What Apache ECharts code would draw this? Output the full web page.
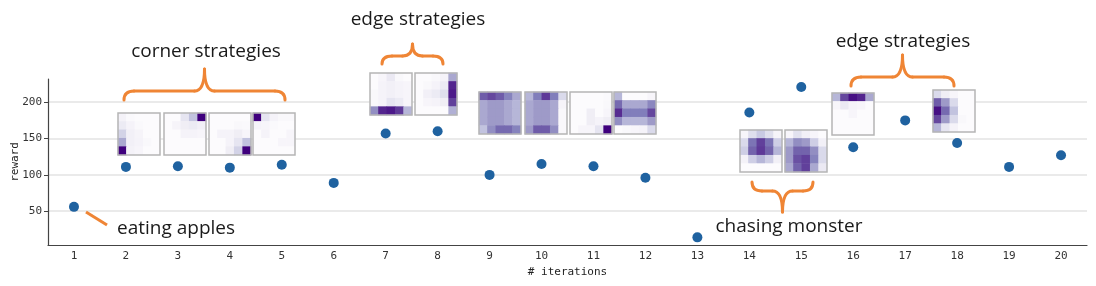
<!DOCTYPE html>
<html>
<head>
<meta charset="utf-8">
<script src="https://cdn.jsdelivr.net/npm/echarts@6/dist/echarts.min.js"></script>
<style>html,body{margin:0;padding:0;background:#fff}#c{width:1096px;height:286px}</style>
</head>
<body>
<div id="c"></div>
<script>
// ---------- data ----------
const iterations = ['1','2','3','4','5','6','7','8','9','10','11','12','13','14','15','16','17','18','19','20'];
const rewards = [56, 111, 112, 110, 114, 89, 157, 160, 100, 115, 112, 96, 14, 186, 221, 138, 175, 144, 111, 127];
const yTicks = [50, 100, 150, 200];

// state-visitation heatmaps (5x5, rows top->bottom)
const heat2 = [[0.08,0.02,0,0,0],[0.14,0.07,0.02,0,0],[0.28,0.10,0.06,0,0],[0.45,0.10,0.07,0.03,0],[1.00,0.08,0.05,0,0]];
const heat3 = [[0,0,0.18,0.35,1.00],[0,0.06,0.12,0.14,0.10],[0,0,0.07,0.07,0.05],[0,0,0,0,0],[0,0,0,0,0]];
const heat4 = [[0,0,0,0,0],[0,0,0,0.03,0.02],[0,0.07,0.07,0.12,0.05],[0,0,0.07,0.18,0.35],[0,0,0.12,0.28,1.00]];
const heat5 = [[1.00,0.18,0.07,0.03,0.03],[0.07,0.05,0.02,0,0],[0,0.07,0,0,0.05],[0,0,0,0.05,0.05],[0,0,0,0,0]];
const heat7 = [[0,0.05,0.15,0.03,0],[0,0.07,0.10,0.07,0.05],[0.03,0.07,0.10,0.07,0.05],[0.03,0.07,0.18,0.14,0.05],[0.55,0.88,0.92,0.82,0.40]];
const heat8 = [[0,0,0.03,0.07,0.45],[0,0.03,0.07,0.14,0.88],[0,0.10,0.14,0.22,0.92],[0,0.05,0.07,0.12,0.80],[0,0,0,0,0.42]];
const heat9 = [[0.72,0.78,0.72,0.60,0.45],[0.45,0.50,0.50,0.45,0.40],[0.45,0.50,0.50,0.45,0.40],[0.45,0.50,0.50,0.45,0.40],[0.35,0.55,0.68,0.68,0.60]];
const heat10 = [[0.40,0.62,0.82,0.62,0.25],[0.45,0.50,0.50,0.45,0.06],[0.45,0.50,0.50,0.45,0.03],[0.45,0.50,0.50,0.45,0.03],[0.50,0.72,0.72,0.55,0.03]];
const heat11 = [[0,0,0,0,0.02],[0,0,0,0,0.03],[0,0,0.12,0,0.05],[0,0,0.12,0.07,0.12],[0,0.05,0.05,0.18,1.00]];
const heat12 = [[0.40,0,0,0,0.05],[0.68,0.45,0.45,0.45,0.58],[0.86,0.62,0.62,0.62,0.78],[0.55,0.40,0.40,0.40,0.50],[0,0.03,0.05,0.07,0.25]];
const heat14 = [[0.05,0.22,0.32,0.22,0.06],[0.25,0.65,0.80,0.65,0.30],[0.30,0.70,0.82,0.70,0.40],[0.08,0.30,0.40,0.30,0.10],[0,0,0,0,0]];
const heat15 = [[0.05,0.20,0.10,0.05,0],[0.40,0.55,0.50,0.30,0.10],[0.50,0.70,0.70,0.55,0.25],[0.50,0.75,0.80,0.60,0.25],[0.45,0.70,0.80,0.45,0.15]];
const heat16 = [[0.40,0.78,0.95,0.88,0.45],[0.05,0.15,0.07,0.05,0],[0,0,0.05,0,0],[0,0,0,0,0],[0,0,0,0,0]];
const heat18 = [[0.25,0.12,0.05,0,0],[0.72,0.50,0.25,0,0],[0.95,0.68,0.35,0,0],[0.78,0.50,0.25,0.03,0],[0.40,0.18,0.07,0,0]];

const heatmaps = [heat2, heat3, heat4, heat5, heat7, heat8, heat9, heat10, heat11, heat12, heat14, heat15, heat16, heat18];

// ---------- layout (pixel boxes of thumbnails: left, top) ----------
const thumbBoxes = [[118,113],[164,113],[209,113],[253,113],[370,73],[415,73],[479,92],[525,92],[570,92],[614,92],[740,130],[785,130],[832,93],[933,90]];
const TS = 42;

const purples = ['#fcfbfd','#efedf5','#dadaeb','#bcbddc','#9e9ac8','#807dba','#6a51a3','#54278f','#3f007d'];
const orange = '#ef8535';
const mono = 'DejaVu Sans Mono';
const annFont = 'Open Sans';

const grids = [{ left: 48, right: 9, top: 79, bottom: 41, outerBoundsMode: 'none', containLabel: false }];
const xAxes = [{
  type: 'category', data: iterations, boundaryGap: true,
  name: '# iterations', nameLocation: 'middle', nameGap: 21,
  nameTextStyle: { fontFamily: mono, fontSize: 11, color: '#222' },
  axisLine: { lineStyle: { color: '#444', width: 1.2 } },
  axisTick: { alignWithLabel: true, length: 4, lineStyle: { color: '#444' } },
  axisLabel: { fontFamily: mono, fontSize: 11, color: '#333', margin: 6 },
  splitLine: { show: false }
}];
const yAxes = [{
  type: 'value', min: 3.5, max: 232,
  name: 'reward', nameLocation: 'middle', nameGap: 27, nameRotate: 90, nameMoveOverlap: false,
  nameTextStyle: { fontFamily: mono, fontSize: 11, color: '#222' },
  axisLine: { show: true, lineStyle: { color: '#444', width: 1.2 } },
  axisTick: { show: true, length: 4, customValues: yTicks, lineStyle: { color: '#444' } },
  axisLabel: { fontFamily: mono, fontSize: 11, color: '#333', margin: 6, customValues: yTicks },
  splitLine: { show: true, showMinLine: true, showMaxLine: true, lineStyle: { color: '#e3e3e3', width: 1.5 } }
}];
const series = [{
  type: 'scatter', xAxisIndex: 0, yAxisIndex: 0,
  data: rewards, symbolSize: 10, z: 5,
  itemStyle: { color: '#1f62a0', opacity: 1 }
}];
const graphics = [];
const cellIdx = [0,1,2,3,4];
heatmaps.forEach((h, i) => {
  const [l, t] = thumbBoxes[i];
  grids.push({ left: l, top: t, width: TS, height: TS, show: true, backgroundColor: '#fff', borderWidth: 0, z: 3, outerBoundsMode: 'none', containLabel: false });
  xAxes.push({ type: 'category', gridIndex: i + 1, data: cellIdx, show: false, boundaryGap: true });
  yAxes.push({ type: 'category', gridIndex: i + 1, data: cellIdx, show: false, inverse: true, boundaryGap: true });
  const d = [];
  h.forEach((row, r) => row.forEach((v, c) => d.push([c, r, v])));
  series.push({ type: 'heatmap', xAxisIndex: i + 1, yAxisIndex: i + 1, data: d, z: 4, itemStyle: { borderWidth: 0 }, emphasis: { disabled: true } });
  graphics.push({ type: 'rect', z: 100, silent: true, shape: { x: l, y: t, width: TS, height: TS }, style: { fill: null, stroke: '#b5b5b5', lineWidth: 1.5 } });
});

// annotations: braces, pointer line, texts
const braceStyle = { fill: null, stroke: orange, lineWidth: 3, lineCap: 'round' };
function addBrace(x1, x2, yEnd, yMid, yTip) {
  const xm = (x1 + x2) / 2, r = 10;
  const q = (ax, ay, cx, cy, bx, by) => ({ type: 'bezierCurve', z: 100, silent: true, shape: { x1: ax, y1: ay, cpx1: cx, cpy1: cy, x2: bx, y2: by }, style: braceStyle });
  const ln = (ax, ay, bx, by) => ({ type: 'line', z: 100, silent: true, shape: { x1: ax, y1: ay, x2: bx, y2: by }, style: braceStyle });
  graphics.push(q(x1, yEnd, x1, yMid, x1 + r, yMid));
  graphics.push(ln(x1 + r, yMid, xm - r, yMid));
  graphics.push(q(xm - r, yMid, xm, yMid, xm, yTip));
  graphics.push(q(xm, yTip, xm, yMid, xm + r, yMid));
  graphics.push(ln(xm + r, yMid, x2 - r, yMid));
  graphics.push(q(x2 - r, yMid, x2, yMid, x2, yEnd));
}
addBrace(124, 285, 100, 91, 69);
addBrace(382, 443, 64, 56, 44);
addBrace(851, 954, 86, 77, 55);
addBrace(752, 813, 182, 191, 212);
graphics.push({ type: 'line', z: 100, silent: true, shape: { x1: 86, y1: 212, x2: 107, y2: 225 }, style: { stroke: orange, lineWidth: 3 } });

const annText = (txt, x, y, align) => ({
  type: 'text', z: 100, x, y, silent: true,
  style: { text: txt, fill: '#1a1a1a', font: `19px "${annFont}"`, align: align, verticalAlign: 'middle' }
});
graphics.push(annText('corner strategies', 206, 52, 'center'));
graphics.push(annText('edge strategies', 418, 20, 'center'));
graphics.push(annText('edge strategies', 903, 42, 'center'));
graphics.push(annText('eating apples', 117, 229, 'left'));
graphics.push(annText('chasing monster', 789, 227, 'center'));

const chart = echarts.init(document.getElementById('c'), null, { renderer: 'canvas' });
chart.setOption({
  animation: false,
  backgroundColor: '#fff',
  grid: grids, xAxis: xAxes, yAxis: yAxes,
  visualMap: { type: 'continuous', show: false, min: 0, max: 1, seriesIndex: series.map((s, i) => i).slice(1), inRange: { color: purples } },
  series: series,
  graphic: graphics
});
</script>
</body>
</html>
